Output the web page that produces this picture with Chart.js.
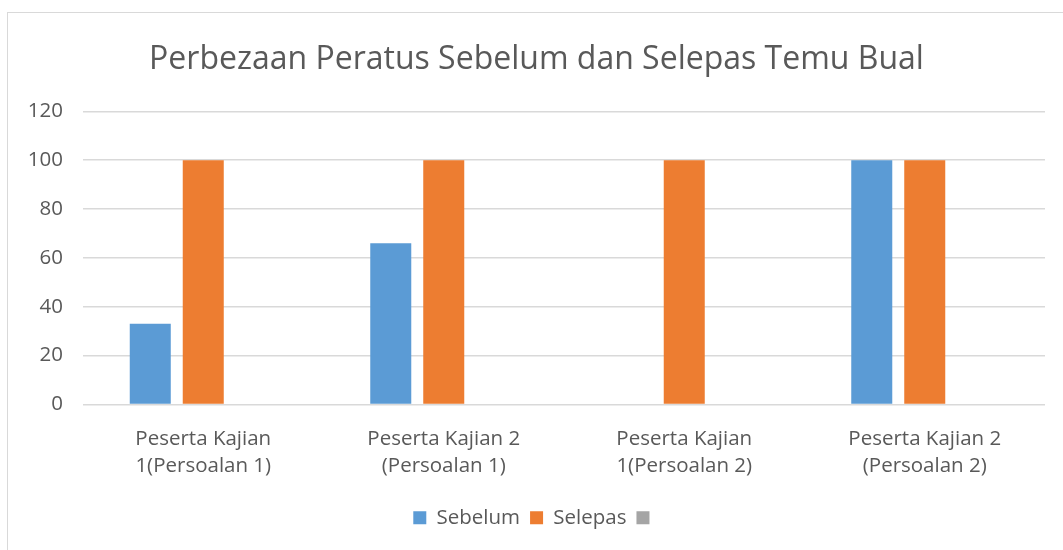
<!DOCTYPE html>
<html>
<head>
<meta charset="utf-8">
<script src="https://cdn.jsdelivr.net/npm/chart.js@4/dist/chart.umd.min.js"></script>
<style>
  html, body { margin: 0; padding: 0; background: #fff; overflow: hidden; }
  #frame { position: absolute; left: 7px; top: 12px; width: 1100px; height: 600px; border: 1px solid #d9d9d9; }
  #wrap { position: absolute; left: 0; top: 0; width: 1063px; height: 550px; }
</style>
</head>
<body>
<div id="frame"></div>
<div id="wrap"><canvas id="chart"></canvas></div>
<script>
// kategori peserta / soalan
const categories = [
    ['Peserta Kajian', '1(Persoalan 1)'],
    ['Peserta Kajian 2', '(Persoalan 1)'],
    ['Peserta Kajian', '1(Persoalan 2)'],
    ['Peserta Kajian 2', '(Persoalan 2)']
];
const sebelum = [33, 66, 0, 100];
const selepas = [100, 100, 100, 100];
const kosong = [null, null, null, null];   // siri ketiga tanpa nama
const yTicks = [0, 20, 40, 60, 80, 100, 120];

const grey = '#595959';
const font = 'Open Sans';

new Chart(document.getElementById('chart'), {
    type: 'bar',
    data: {
        labels: categories,
        datasets: [
            { label: 'Sebelum', data: sebelum, backgroundColor: '#5b9bd5' },
            { label: 'Selepas', data: selepas, backgroundColor: '#ed7d31' },
            { label: '', data: kosong, backgroundColor: '#a5a5a5' }
        ]
    },
    options: {
        responsive: true,
        maintainAspectRatio: false,
        animation: false,
        datasets: {
            bar: { categoryPercentage: 0.661, barPercentage: 0.774 }
        },
        layout: { padding: { left: 28, right: 18, top: 0, bottom: 12 } },
        plugins: {
            title: {
                display: true,
                text: 'Perbezaan Peratus Sebelum dan Selepas Temu Bual',
                color: grey,
                font: { family: font, size: 32, weight: 'normal' },
                padding: { top: 41, bottom: 32 }
            },
            legend: {
                position: 'bottom',
                labels: {
                    color: grey,
                    font: { family: font, size: 20.5 },
                    boxWidth: 13,
                    boxHeight: 13,
                    padding: 10
                }
            },
            tooltip: { enabled: false }
        },
        scales: {
            x: {
                afterFit: (scale) => { scale.height += 5; },
                grid: { display: false },
                border: { display: false },
                ticks: {
                    color: grey,
                    font: { family: font, size: 20.5, lineHeight: 1.32 },
                    maxRotation: 0,
                    padding: 13
                }
            },
            y: {
                min: 0,
                max: 120,
                afterFit: (scale) => { scale.width = 55; },
                afterBuildTicks: (scale) => { scale.ticks = yTicks.map(v => ({ value: v })); },
                grid: { color: '#d9d9d9', lineWidth: 1.5, drawTicks: false },
                border: { display: false },
                ticks: {
                    color: grey,
                    font: { family: font, size: 20.5 },
                    padding: 20
                }
            }
        }
    }
});
</script>
</body>
</html>
